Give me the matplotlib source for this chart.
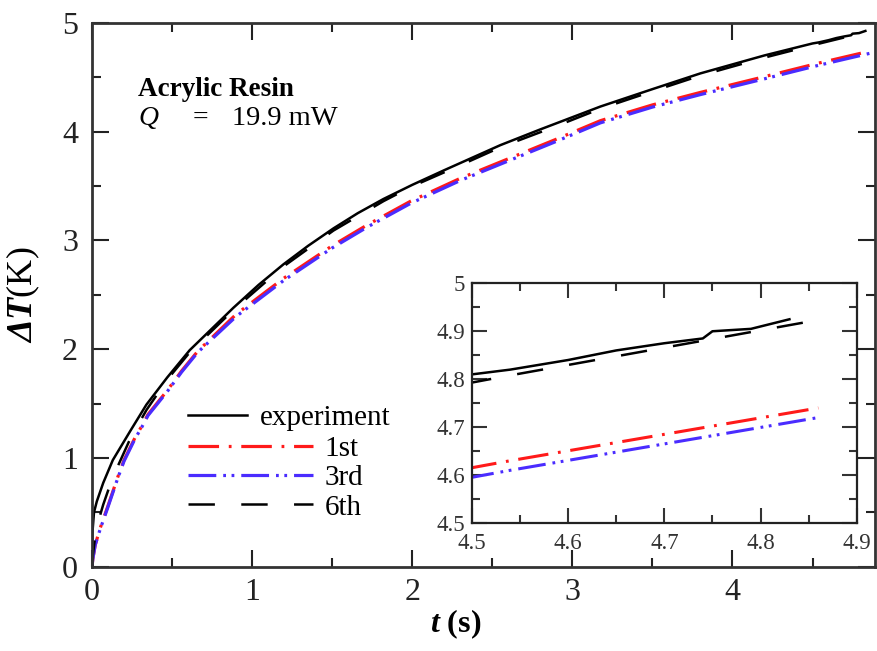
import matplotlib
matplotlib.use('Agg')
import matplotlib.pyplot as plt
from matplotlib.ticker import MultipleLocator, FuncFormatter

plt.rcParams['font.family'] = ['Liberation Serif', 'DejaVu Serif']
plt.rcParams['mathtext.fontset'] = 'custom'
plt.rcParams['mathtext.it'] = 'Liberation Serif:italic:bold'
plt.rcParams['mathtext.rm'] = 'Liberation Serif'
plt.rcParams['lines.scale_dashes'] = False

# measured temperature rise
t_exp = [0, 0.002, 0.0125, 0.03, 0.07, 0.13, 0.24, 0.34, 0.47, 0.61, 0.75, 0.883,
         1.04, 1.196, 1.35, 1.508, 1.66, 1.82, 2.0, 2.2, 2.55, 2.8, 3.175, 3.5,
         3.8, 4.2, 4.5, 4.54, 4.6, 4.65, 4.7, 4.74, 4.75, 4.79, 4.83]
dT_exp = [0, 0.3, 0.5, 0.6, 0.77, 0.98, 1.25, 1.49, 1.74, 1.99, 2.19, 2.38,
          2.59, 2.78, 2.95, 3.11, 3.25, 3.38, 3.51, 3.645, 3.875, 4.02, 4.23, 4.39,
          4.535, 4.70, 4.81, 4.82, 4.84, 4.86, 4.875, 4.885, 4.90, 4.905, 4.925]

# 1st and 3rd order models
t_mod = [0, 0.005, 0.02, 0.05, 0.1, 0.16, 0.2, 0.27, 0.31, 0.35, 0.47, 0.52, 0.56,
         0.66, 0.9, 1.196, 1.5, 1.717, 1.99, 2.3, 2.55, 2.9, 3.175, 3.5, 3.8,
         4.2, 4.54, 4.86]
dT_1st = [0, 0.07, 0.2, 0.35, 0.56, 0.82, 0.98, 1.19, 1.29, 1.40, 1.62, 1.72, 1.80,
          1.98, 2.32, 2.65, 2.95, 3.14, 3.36, 3.57, 3.72, 3.93, 4.10, 4.245, 4.36,
          4.505, 4.63, 4.74]
dT_3rd = [0, 0.07, 0.2, 0.34, 0.55, 0.81, 0.97, 1.18, 1.28, 1.39, 1.61, 1.71, 1.79,
          1.97, 2.30, 2.63, 2.93, 3.12, 3.34, 3.55, 3.70, 3.91, 4.08, 4.225, 4.34,
          4.485, 4.61, 4.72]

# 6th order model
t_6th = [0, 0.005, 0.02, 0.04, 0.07, 0.11, 0.16, 0.24, 0.34, 0.47, 0.61, 0.883,
         1.196, 1.508, 1.82, 1.99, 2.3, 2.55, 2.9, 3.175, 3.5, 3.8, 4.2, 4.54, 4.85]
dT_6th = [0, 0.1, 0.28, 0.42, 0.57, 0.74, 0.92, 1.18, 1.44, 1.72, 1.97, 2.36,
          2.76, 3.09, 3.36, 3.49, 3.69, 3.855, 4.05, 4.21, 4.37, 4.515, 4.68, 4.808, 4.92]

red = '#ff1a1a'
blue = '#4a2cff'
dash_1st = (0, (22, 7, 2, 7))
dash_3rd = (0, (20, 5, 2, 4, 2, 5))
dash_6th = (0, (19, 19))


def draw_curves(ax, lw_exp, lw_mod):
    h = []
    h += ax.plot(t_exp, dT_exp, color='black', lw=lw_exp, label='experiment')
    h += ax.plot(t_mod, dT_1st, color=red, lw=lw_mod, ls=dash_1st, label='1st')
    h += ax.plot(t_mod, dT_3rd, color=blue, lw=lw_mod, ls=dash_3rd, label='3rd')
    h += ax.plot(t_6th, dT_6th, color='black', lw=lw_exp, ls=dash_6th, label='6th')
    return h


fig = plt.figure(figsize=(8.77, 6.51), dpi=100)
ax = fig.add_axes([0.1049, 0.1295, 0.8928, 0.8355])
handles = draw_curves(ax, 1.8, 2.3)

ax.set_xlim(0, 4.89)
ax.set_ylim(0, 5)
ax.xaxis.set_major_locator(MultipleLocator(1))
ax.xaxis.set_minor_locator(MultipleLocator(0.5))
ax.yaxis.set_major_locator(MultipleLocator(1))
ax.yaxis.set_minor_locator(MultipleLocator(0.5))
ax.tick_params(which='both', direction='in', top=True, right=True,
               width=1.5, colors='#222222', labelsize=23)
ax.tick_params(which='major', length=12)
ax.tick_params(which='minor', length=6.5)
ax.tick_params(axis='y', pad=10)
ax.tick_params(axis='x', pad=8)
for s in ax.spines.values():
    s.set_linewidth(2)
    s.set_color('#333333')

ax.set_ylabel('ΔT' + r'$\mathrm{(K)}$', fontsize=26, fontstyle='italic',
              fontweight='bold')
ax.set_xlabel(r'$\mathit{t}$ (s)', fontsize=23, fontweight='bold')
ax.yaxis.set_label_coords(-0.064, 0.5)
ax.xaxis.set_label_coords(0.464, -0.075)

ax.text(0.059, 0.866, 'Acrylic Resin', transform=ax.transAxes,
        fontsize=19.5, fontweight='bold', va='baseline')
ax.text(0.059, 0.812, 'Q', transform=ax.transAxes, fontsize=20,
        fontstyle='italic', va='baseline')
ax.text(0.129, 0.812, '=', transform=ax.transAxes, fontsize=20, va='baseline')
ax.text(0.179, 0.812, '19.9 mW', transform=ax.transAxes, fontsize=20.5,
        va='baseline')

leg1 = ax.legend(handles=handles[:1], loc='upper left', frameon=False,
                 bbox_to_anchor=(0.214, 0.378), bbox_transform=fig.transFigure,
                 fontsize=21, handlelength=2.05, handletextpad=0.41,
                 borderpad=0, borderaxespad=0)
ax.add_artist(leg1)
ax.legend(handles=handles[1:], loc='upper left', frameon=False,
          bbox_to_anchor=(0.214, 0.331), bbox_transform=fig.transFigure,
          fontsize=21, handlelength=4.28, handletextpad=0.41,
          labelspacing=0.1, borderpad=0, borderaxespad=0)

# inset zoom on the end of the heating period
axin = fig.add_axes([0.538, 0.1966, 0.439, 0.3682])
draw_curves(axin, 1.8, 2.2)
axin.set_xlim(4.5, 4.9)
axin.set_ylim(4.5, 5)
axin.xaxis.set_major_locator(MultipleLocator(0.1))
axin.xaxis.set_minor_locator(MultipleLocator(0.05))
axin.yaxis.set_major_locator(MultipleLocator(0.1))
axin.yaxis.set_minor_locator(MultipleLocator(0.05))
short = FuncFormatter(lambda v, pos: '%g' % round(v, 2))
axin.xaxis.set_major_formatter(short)
axin.yaxis.set_major_formatter(short)
axin.tick_params(which='both', direction='in', top=True, right=True,
                 width=1.5, colors='#333333', labelsize=16.5)
axin.tick_params(which='major', length=11)
axin.tick_params(which='minor', length=5.5)
axin.tick_params(axis='y', pad=5)
axin.tick_params(axis='x', pad=7)
for s in axin.spines.values():
    s.set_linewidth(1.6)
    s.set_color('#222222')

fig.savefig('out.png', dpi=100)
